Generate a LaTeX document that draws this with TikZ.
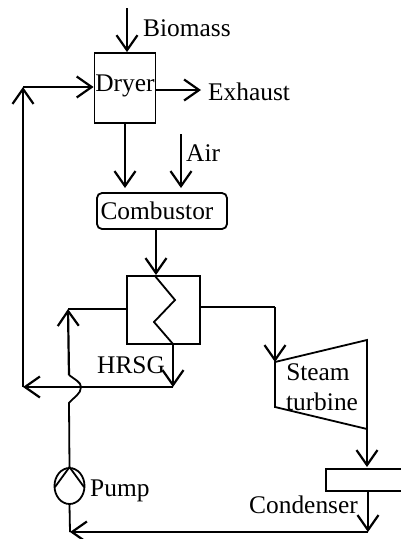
\documentclass[tikz,border=0pt]{standalone}
\usepackage{fontspec}
\setmainfont{Liberation Serif}
\usetikzlibrary{arrows.meta,shapes.geometric}
\tikzset{
    flow/.style={line width=2.2pt, -{Straight Barb[length=15pt,width=21pt,line width=2.2pt]}},
    pipe/.style={line width=1.8pt},
    unit/.style={draw, line width=1.8pt, inner sep=0pt},
    label/.style={inner sep=0pt, font=\fontsize{25.4}{25.4}\selectfont}
}
\begin{document}
\begin{tikzpicture}[x=1pt, y=-1pt]
        \useasboundingbox (0, 0) rectangle (401, 539);
        \begin{scope}[every node/.style={unit}]
            \node (dryer) [minimum width=61pt, minimum height=70pt] at (125, 88) {};
            \node (combustor) [minimum width=130pt, minimum height=36pt, rounded corners=5pt] at (162, 211) {};
            \node (hrsg) [minimum width=73pt, minimum height=68pt] at (163.5, 310) {};
            \node (pump) [ellipse, minimum width=30pt, minimum height=36pt] at (69.5, 486) {};
            \node (condenser) [minimum width=90pt, minimum height=22pt] at (371, 480) {};
        \end{scope}
        \begin{scope}[every node/.style={label}]
            \node (biomass) [anchor=west] at (143, 28) {Biomass};
            \node (dryertext) at (125, 86) {Dryer};
            \node (exhaust) [anchor=west] at (208, 92) {Exhaust};
            \node (air) [anchor=west] at (186, 153) {Air};
            \node (combustortext) at (157, 211) {Combustor};
            \node (hrsgtext) [anchor=west] at (97, 365) {HRSG};
            \node (steam) at (318, 372) {Steam};
            \node (turbinetext) at (322, 402) {turbine};
            \node (pumptext) [anchor=west] at (90, 491) {Pump};
            \node (condensertext) [anchor=west] at (249, 505) {Condenser};
        \end{scope}
        % free ends and corners
        \coordinate (biomassin) at (127, 8);
        \coordinate (exhaustout) at (201, 90);
        \coordinate (airin) at (181, 134);
        \coordinate (recycle) at (23, 87);
        \coordinate (mix) at (23, 387);
        \coordinate (drain) at (173, 387);
        \coordinate (feed) at (68, 309);
        \coordinate (steamout) at (275, 307);
        \coordinate (turbinein) at (275, 362);
        \coordinate (turbinetop) at (367, 340);
        \coordinate (turbineout) at (367, 429);
        \coordinate (turbinelow) at (275, 407);
        \coordinate (return) at (368, 532);
        \coordinate (pumpin) at (70, 532);
        % turbine and coil
        \draw [pipe] (turbinein) -- (turbinetop) -- (turbineout) -- (turbinelow) -- cycle;
        \draw [pipe] (155, 276) -- (175, 300) -- (154, 322) -- (173, 344);
        \draw [pipe] (55, 487) -- (pump.north) -- (84, 487);
        % streams
        \path [flow] (biomassin) edge (biomassin |- dryer.north);
        \path [flow] (recycle) edge (recycle -| dryer.west);
        \path [flow] (exhaustout -| dryer.east) edge (exhaustout);
        \path [flow] (dryer.south) edge (125, 188);
        \path [flow] (airin) edge (181, 188);
        \path [flow] (156, 229) edge (156, 275);
        \path [flow] (173, 344) edge (drain);
        \path [flow] (drain) edge (mix);
        \path [flow] (mix) edge (recycle);
        \draw [pipe] (hrsg.west |- feed) -- (feed);
        \draw [pipe] (pump.north) -- (69, 403) .. controls (74, 397) and (81, 394) .. (81, 387) .. controls (81, 382) and (74, 379) .. (69, 375);
        \path [flow] (69, 375) edge (feed);
        \draw [pipe] (hrsg.east |- steamout) -- (steamout);
        \path [flow] (steamout) edge (turbinein);
        \path [flow] (turbineout) edge (367, 467);
        \path [flow] (368, 491) edge (return);
        \path [flow] (return) edge (pumpin);
        \draw [pipe] (pump.south) -- (pumpin);
    \end{tikzpicture}
\end{document}
